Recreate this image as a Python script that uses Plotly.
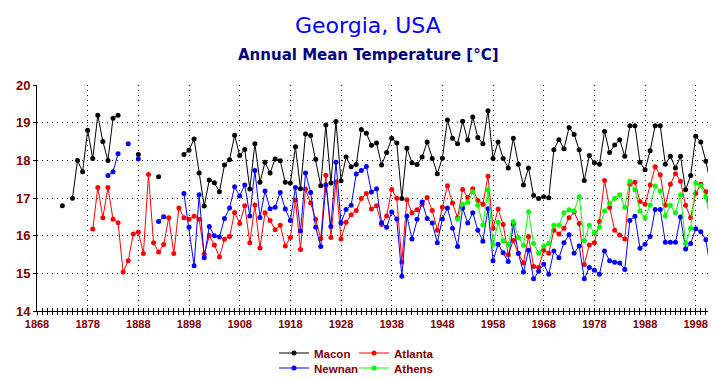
import plotly.graph_objects as go

# ---------------- data ----------------
macon_years = list(range(1873, 2003))
macon_temp = [
    16.8, None, 17.0, 18.0, 17.7, 18.8, 18.05, 19.2, 18.5, 18.0,          # 1873-1882
    19.12, 19.2, None, None, None, 18.16, None, None, None, 17.57,        # 1883-1892
    None, None, None, None, 18.16, 18.27, 18.57, 17.67, 16.79, 17.48,     # 1893-1902
    17.41, 17.17, 17.88, 18.02, 18.67, 18.13, 18.29, 17.24, 18.44, 17.42, # 1903-1912
    17.95, 17.67, 18.04, 17.99, 17.42, 17.40, 18.36, 17.25, 18.70, 18.66, # 1913-1922
    18.03, 17.33, 18.94, 17.40, 19.03, 17.46, 18.09, 17.83, 17.89, 18.82, # 1923-1932
    18.72, 18.40, 18.46, 17.88, 18.21, 18.59, 18.46, 16.99, 18.32, 17.94, # 1933-1942
    17.89, 18.09, 18.49, 18.05, 17.65, 18.06, 19.07, 18.59, 18.44, 19.04, # 1943-1952
    18.54, 19.15, 18.61, 18.44, 19.32, 18.05, 18.49, 18.05, 17.80, 18.59, # 1953-1962
    17.90, 17.35, 17.80, 17.07, 16.99, 17.04, 17.01, 18.28, 18.55, 18.31, # 1963-1972
    18.87, 18.69, 18.28, 17.47, 18.13, 17.94, 17.90, 18.77, 18.21, 18.41, # 1973-1982
    18.55, 18.11, 18.92, 18.92, 17.95, 17.75, 18.26, 18.92, 18.92, 17.90, # 1983-1992
    18.11, 17.80, 18.11, 17.22, 17.60, 18.64, 18.49, 17.98, 17.32, 18.44, # 1993-2002
]

atlanta_years = list(range(1879, 2003))
atlanta_temp = [
    16.18, 17.28, 16.48, 17.28, 16.44, 16.35, 15.04, 15.34, 16.05, 16.10, # 1879-1888
    15.53, 17.63, 15.82, 15.57, 15.77, 16.48, 15.53, 16.74, 16.48, 16.44, # 1889-1898
    16.52, 16.44, 15.51, 16.01, 15.76, 15.44, 15.91, 15.98, 16.62, 16.33, # 1899-1908
    16.80, 15.82, 16.82, 15.68, 16.61, 16.41, 16.16, 16.28, 15.73, 15.96, # 1909-1918
    16.95, 15.64, 17.24, 16.87, 16.44, 15.93, 17.61, 15.96, 17.43, 15.92, # 1919-1928
    16.36, 16.56, 16.67, 16.99, 17.12, 16.71, 16.80, 16.30, 16.53, 17.23, # 1929-1938
    17.00, 15.31, 16.96, 16.61, 16.69, 16.84, 17.02, 16.67, 16.15, 16.76, # 1939-1948
    17.33, 16.87, 16.48, 17.23, 17.02, 17.25, 16.94, 16.84, 17.58, 16.20, # 1949-1958
    16.71, 16.30, 15.50, 15.88, 15.53, 15.29, 15.98, 15.19, 15.16, 15.62, # 1959-1968
    15.54, 16.15, 16.05, 16.20, 16.48, 16.63, 16.33, 15.24, 15.76, 15.82, # 1969-1978
    16.38, 17.47, 16.75, 16.15, 16.02, 15.92, 17.37, 17.42, 16.91, 16.84, # 1979-1988
    17.35, 17.83, 17.62, 16.81, 17.37, 17.65, 17.45, 16.81, 16.48, 17.12, # 1989-1998
    17.37, 17.17, 16.43, 17.32,                                           # 1999-2002
]

newnan_years = list(range(1882, 2002))
newnan_temp = [
    17.60, 17.70, 18.18, None, 18.44, None, 18.04, None, None, None,      # 1882-1891
    16.38, 16.51, None, None, None, 17.12, 16.23, 15.21, 17.09, 15.42,    # 1892-1901
    16.25, 16.00, 15.97, 16.46, 16.74, 17.30, 17.06, 17.35, 16.53, 17.73, # 1902-1911
    16.49, 17.19, 16.72, 16.76, 17.15, 16.71, 16.41, 17.28, 16.13, 17.67, # 1912-1921
    17.15, 16.23, 15.72, 17.35, 16.25, 17.95, 16.35, 16.70, 16.81, 17.64, # 1922-1931
    17.73, 17.84, 17.16, 17.25, 16.35, 16.23, 16.63, 16.45, 14.93, 16.53, # 1932-1941
    15.92, 16.44, 16.90, 16.46, 16.34, 15.82, 16.45, 16.74, 16.20, 15.72, # 1942-1951
    16.74, 16.34, 16.61, 16.15, 15.86, 16.72, 15.34, 15.78, 15.55, 15.32, # 1952-1961
    16.31, 15.53, 15.04, 15.62, 14.86, 15.06, 15.25, 14.98, 15.60, 15.42, # 1962-1971
    15.82, 16.03, 15.54, 15.73, 14.86, 15.16, 15.09, 14.98, 15.60, 15.34, # 1972-1981
    15.30, 15.28, 15.11, 16.41, 16.52, 15.67, 15.78, 15.98, 16.70, 16.70, # 1982-1991
    15.83, 15.83, 15.83, 16.50, 15.65, 15.80, 16.19, 16.11, 15.90, 15.04, # 1992-2001
]

athens_years = list(range(1951, 2003))
athens_temp = [
    16.44, 16.84, 16.89, 17.17, 16.81, 16.29, 17.22, 15.77, 16.36, 15.87, # 1951-1960
    15.77, 16.38, 15.96, 15.75, 16.64, 15.80, 15.54, 15.73, 15.80, 16.28, # 1961-1970
    16.28, 16.61, 16.69, 16.66, 17.04, 15.87, 16.28, 16.08, 16.23, 16.66, # 1971-1980
    16.86, 16.99, 17.09, 16.76, 17.45, 17.22, 16.66, 16.48, 16.81, 17.32, # 1981-1990
    17.19, 16.53, 16.81, 16.61, 17.09, 15.80, 16.20, 17.40, 17.32, 17.04, # 1991-2000
    16.30, 17.40,                                                         # 2001-2002
]

x_ticks = list(range(1868, 2002, 10))
y_ticks = [14, 15, 16, 17, 18, 19, 20]

# ---------------- figure ----------------
series = [
    ("Macon", macon_years, macon_temp, "#000000", "legend"),
    ("Atlanta", atlanta_years, atlanta_temp, "#FF0000", "legend"),
    ("Newnan", newnan_years, newnan_temp, "#0000FF", "legend2"),
    ("Athens", athens_years, athens_temp, "#00FF00", "legend2"),
]

fig = go.Figure()
for name, xs, ys, col, leg in series:
    fig.add_trace(go.Scatter(
        x=xs, y=ys, name=name, mode="lines+markers",
        line=dict(color=col, width=1),
        marker=dict(color=col, size=5),
        connectgaps=False, legend=leg,
    ))

# invisible trace to carry the overlay axis (inward ticks)
fig.add_trace(go.Scatter(x=[1868], y=[14], xaxis="x2", mode="markers",
                         marker=dict(opacity=0), showlegend=False, hoverinfo="skip"))

W, H = 716, 380
ML, MR, MT, MB = 21, 8, 77, 67
PW, PH = W - ML - MR, H - MT - MB


def px_x(px):
    return (px - ML) / PW


def px_y(py):
    return (H - MB - py) / PH


tick_font = dict(family="Liberation Sans", size=11, color="#800000", weight="bold")
legend_font = dict(family="Liberation Sans", size=11.5, color="#800000", weight="bold")
fig.update_layout(
    width=W, height=H,
    margin=dict(l=ML, r=MR, t=MT, b=MB),
    paper_bgcolor="white", plot_bgcolor="white",
    showlegend=True,
    xaxis=dict(
        range=[1868, 2002], tickvals=x_ticks, ticktext=[str(v) for v in x_ticks],
        ticks="outside", ticklen=3, tickcolor="black",
        minor=dict(dtick=1, tick0=1868, ticks="outside", ticklen=3, tickcolor="black", showgrid=False),
        showline=True, linecolor="black", linewidth=1,
        showgrid=True, gridcolor="black", gridwidth=1, griddash="1px,4px",
        tickfont=tick_font, zeroline=False,
    ),
    xaxis2=dict(
        overlaying="x", matches="x", side="bottom", anchor="y",
        tickvals=x_ticks, showticklabels=False,
        ticks="inside", ticklen=3, tickcolor="black",
        minor=dict(dtick=1, tick0=1868, ticks="inside", ticklen=3, tickcolor="black", showgrid=False),
        showgrid=False, showline=False, zeroline=False,
    ),
    yaxis=dict(
        range=[14, 20], tickvals=y_ticks,
        ticks="outside", ticklen=3, tickcolor="black",
        showline=True, linecolor="black", linewidth=1,
        showgrid=True, gridcolor="black", gridwidth=1, griddash="1px,4px",
        tickfont=dict(family="Liberation Sans", size=13, color="#800000", weight="bold"),
        zeroline=False,
    ),
    legend=dict(
        orientation="h", xref="container", yref="container",
        x=266 / W, y=1 - 345 / H, xanchor="left", yanchor="middle",
        entrywidth=35, entrywidthmode="pixels",
        font=legend_font, bgcolor="rgba(0,0,0,0)", itemclick=False,
    ),
    legend2=dict(
        orientation="h", xref="container", yref="container",
        x=266 / W, y=1 - 360 / H, xanchor="left", yanchor="middle",
        entrywidth=35, entrywidthmode="pixels",
        font=legend_font, bgcolor="rgba(0,0,0,0)", itemclick=False,
    ),
    annotations=[
        dict(text="Georgia, USA", xref="paper", yref="paper",
             x=px_x(356), y=px_y(15), xanchor="center", yanchor="middle", showarrow=False,
             font=dict(family="DejaVu Sans", size=22, color="#0000FF")),
        dict(text="Annual Mean Temperature [°C]", xref="paper", yref="paper",
             x=px_x(356), y=px_y(46), xanchor="center", yanchor="middle", showarrow=False,
             font=dict(family="DejaVu Sans", size=15, color="#000080", weight="bold")),
    ],
)

fig.write_html("out.html")
